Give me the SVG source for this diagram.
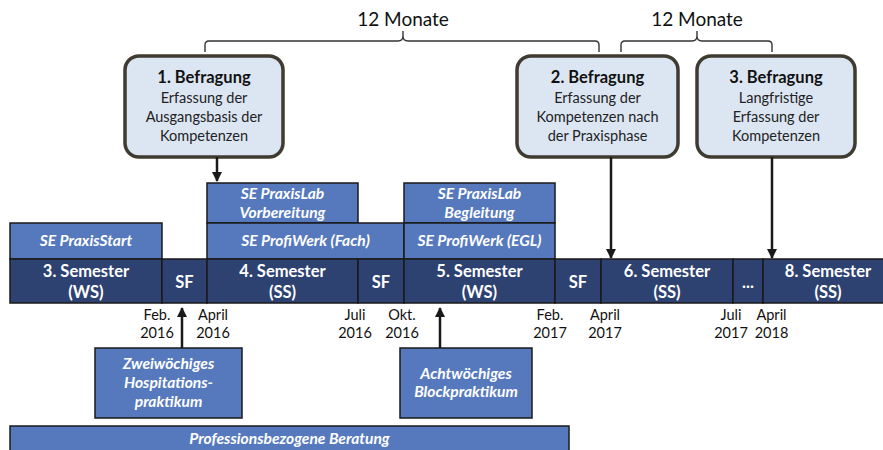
<svg xmlns="http://www.w3.org/2000/svg" width="883" height="450" viewBox="0 0 883 450">
<style>
text{font-family:Lato,"Open Sans","Liberation Sans",sans-serif;}
.bg{fill:#fff}
.qbox{fill:#DCE6F2;stroke:#403B30;stroke-width:3.5}
.qt{font-size:16.5px;font-weight:bold;fill:#111;text-anchor:middle}
.qb{font-size:14.5px;fill:#222;text-anchor:middle}
.sem{fill:#2E4272;stroke:#1A1A1A;stroke-width:1.5}
.se{fill:#5679BD;stroke:#1A1A1A;stroke-width:1.5}
.st{font-size:16.5px;font-weight:bold;fill:#fff;text-anchor:middle}
.set{font-size:15.6px;font-weight:bold;font-style:italic;fill:#fff;text-anchor:middle}
.dt{font-size:14.5px;fill:#111;text-anchor:middle}
.mo{font-size:19px;fill:#111;text-anchor:middle}
.br{fill:none;stroke:#333;stroke-width:1.4}
.ar{fill:none;stroke:#1A1A1A;stroke-width:2.5}
</style>
<defs>
<marker id="ah" viewBox="0 0 10 10" refX="9" refY="5" markerWidth="4.2" markerHeight="4.2" orient="auto" markerUnits="strokeWidth">
<path d="M0,0 L10,5 L0,10 z" fill="#1A1A1A"/>
</marker>
</defs>
<rect class="bg" width="883" height="450"/>

<g id="braces">
<text class="mo" x="403" y="26">12 Monate</text>
<path class="br" d="M205,52 V45 Q205,41 209,41 H398 Q403,41 403,36 V31 M403,36 Q403,41 408,41 H595 Q599,41 599,45 V52"/>
<text class="mo" x="697" y="26">12 Monate</text>
<path class="br" d="M621,52 V45 Q621,41 625,41 H692 Q697,41 697,36 V31 M697,36 Q697,41 702,41 H768 Q772,41 772,45 V52"/>
</g>

<g id="befragung1">
<rect class="qbox" x="125" y="56" width="158" height="101" rx="14"/>
<text class="qt" x="204" y="83">1. Befragung</text>
<text class="qb" x="204" y="103">Erfassung der</text>
<text class="qb" x="204" y="122">Ausgangsbasis der</text>
<text class="qb" x="204" y="141">Kompetenzen</text>
</g>
<g id="befragung2">
<rect class="qbox" x="517" y="56" width="161" height="101" rx="14"/>
<text class="qt" x="597.5" y="83">2. Befragung</text>
<text class="qb" x="597.5" y="103">Erfassung der</text>
<text class="qb" x="597.5" y="122">Kompetenzen nach</text>
<text class="qb" x="597.5" y="141">der Praxisphase</text>
</g>
<g id="befragung3">
<rect class="qbox" x="697" y="56" width="158" height="101" rx="14"/>
<text class="qt" x="776" y="83">3. Befragung</text>
<text class="qb" x="776" y="103">Langfristige</text>
<text class="qb" x="776" y="122">Erfassung der</text>
<text class="qb" x="776" y="141">Kompetenzen</text>
</g>

<g id="se-praxisstart">
<rect class="se" x="10" y="223" width="152" height="36"/>
<text class="set" x="86" y="246">SE PraxisStart</text>
</g>
<g id="se-praxislab-vorbereitung">
<rect class="se" x="207" y="183" width="151" height="40"/>
<text class="set" x="282.5" y="199">SE PraxisLab</text>
<text class="set" x="282.5" y="218">Vorbereitung</text>
</g>
<g id="se-profiwerk-fach">
<rect class="se" x="207" y="223" width="197" height="36"/>
<text class="set" x="305.5" y="246">SE ProfiWerk (Fach)</text>
</g>
<g id="se-praxislab-begleitung">
<rect class="se" x="404" y="183" width="151" height="40"/>
<text class="set" x="479.5" y="199">SE PraxisLab</text>
<text class="set" x="479.5" y="218">Begleitung</text>
</g>
<g id="se-profiwerk-egl">
<rect class="se" x="404" y="223" width="151" height="36"/>
<text class="set" x="479.5" y="246">SE ProfiWerk (EGL)</text>
</g>

<g id="sem3">
<rect class="sem" x="10" y="259" width="152" height="44"/>
<text class="st" x="86" y="277">3. Semester</text>
<text class="st" x="86" y="298">(WS)</text>
</g>
<g id="sf1">
<rect class="sem" x="162" y="259" width="45" height="44"/>
<text class="st" x="184.5" y="288">SF</text>
</g>
<g id="sem4">
<rect class="sem" x="207" y="259" width="151" height="44"/>
<text class="st" x="282.5" y="277">4. Semester</text>
<text class="st" x="282.5" y="298">(SS)</text>
</g>
<g id="sf2">
<rect class="sem" x="358" y="259" width="46" height="44"/>
<text class="st" x="381" y="288">SF</text>
</g>
<g id="sem5">
<rect class="sem" x="404" y="259" width="151" height="44"/>
<text class="st" x="479.5" y="277">5. Semester</text>
<text class="st" x="479.5" y="298">(WS)</text>
</g>
<g id="sf3">
<rect class="sem" x="555" y="259" width="46" height="44"/>
<text class="st" x="578" y="288">SF</text>
</g>
<g id="sem6">
<rect class="sem" x="601" y="259" width="132" height="44"/>
<text class="st" x="667" y="277">6. Semester</text>
<text class="st" x="667" y="298">(SS)</text>
</g>
<g id="dots">
<rect class="sem" x="733" y="259" width="30" height="44"/>
<text class="st" x="748" y="288">...</text>
</g>
<g id="sem8">
<rect class="sem" x="763" y="259" width="130" height="44"/>
<text class="st" x="828" y="277">8. Semester</text>
<text class="st" x="828" y="298">(SS)</text>
</g>

<g id="dates">
<text class="dt" x="157" y="320">Feb.</text><text class="dt" x="157" y="338">2016</text>
<text class="dt" x="213" y="320">April</text><text class="dt" x="213" y="338">2016</text>
<text class="dt" x="355" y="320">Juli</text><text class="dt" x="355" y="338">2016</text>
<text class="dt" x="402" y="320">Okt.</text><text class="dt" x="402" y="338">2016</text>
<text class="dt" x="550" y="320">Feb.</text><text class="dt" x="550" y="338">2017</text>
<text class="dt" x="605" y="320">April</text><text class="dt" x="605" y="338">2017</text>
<text class="dt" x="731" y="320">Juli</text><text class="dt" x="731" y="338">2017</text>
<text class="dt" x="771.5" y="320">April</text><text class="dt" x="771.5" y="338">2018</text>
</g>

<g id="hospitation">
<rect class="se" x="95" y="348" width="147" height="70"/>
<text class="set" x="168.5" y="369">Zweiwöchiges</text>
<text class="set" x="168.5" y="388">Hospitations-</text>
<text class="set" x="168.5" y="407">praktikum</text>
</g>
<g id="blockpraktikum">
<rect class="se" x="400" y="348" width="132" height="70"/>
<text class="set" x="466" y="379">Achtwöchiges</text>
<text class="set" x="466" y="397">Blockpraktikum</text>
</g>
<g id="beratung">
<rect class="se" x="10" y="426" width="559" height="30"/>
<text class="set" x="289.5" y="444">Professionsbezogene Beratung</text>
</g>

<g id="connectors">
<path class="ar" d="M217,157 V181" marker-end="url(#ah)"/>
<path class="ar" d="M611,157 V258" marker-end="url(#ah)"/>
<path class="ar" d="M772,157 V258" marker-end="url(#ah)"/>
<path class="ar" d="M182,348 V308" marker-end="url(#ah)"/>
<path class="ar" d="M440,348 V308" marker-end="url(#ah)"/>
</g>
</svg>
